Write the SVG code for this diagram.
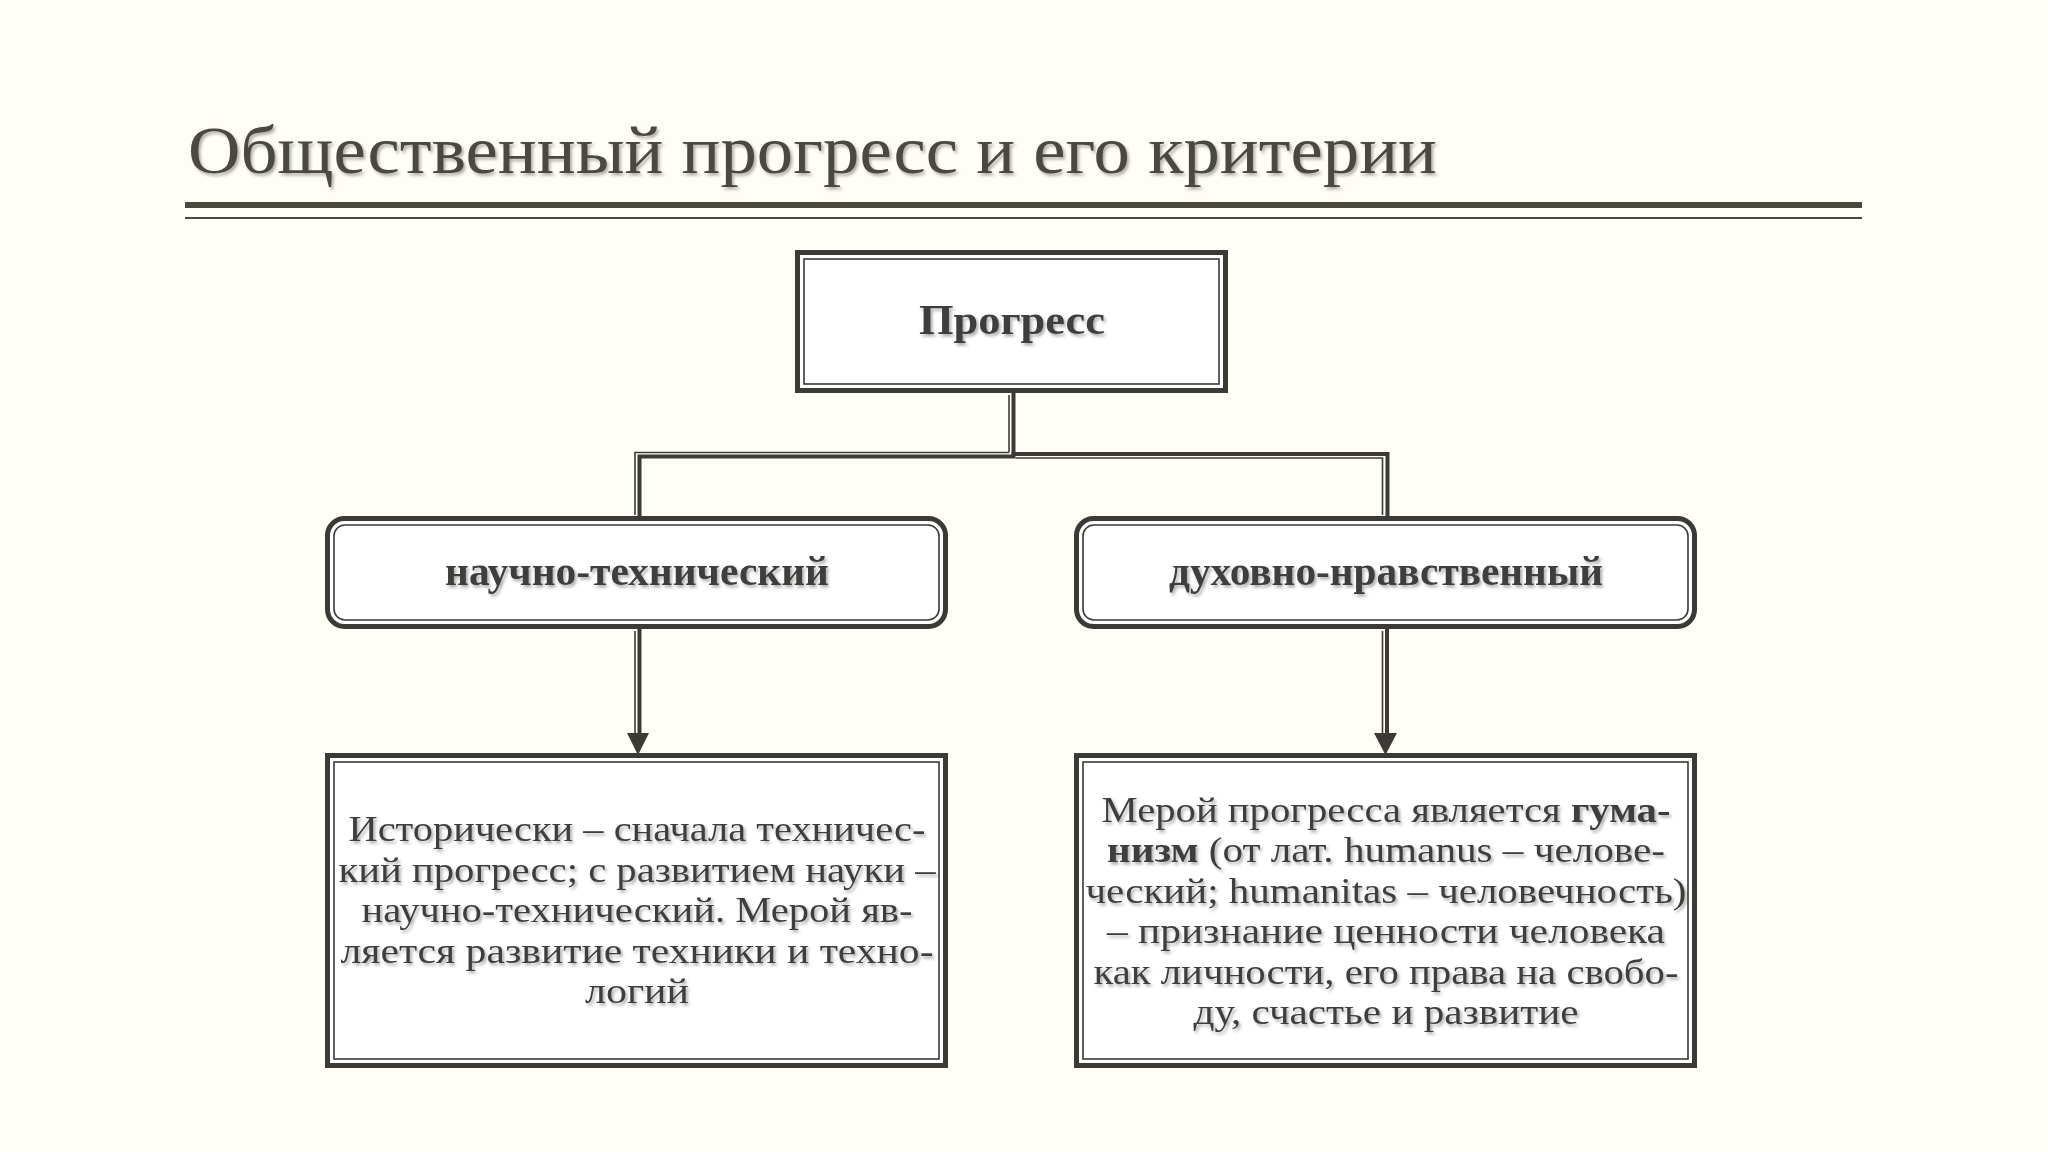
<svg xmlns="http://www.w3.org/2000/svg" width="2048" height="1152" viewBox="0 0 2048 1152">
<defs>
<filter id="sh" x="-5%" y="-20%" width="110%" height="150%">
<feDropShadow dx="2" dy="2.5" stdDeviation="1.6" flood-color="#000" flood-opacity="0.32"/>
</filter>
<style>
.bg{fill:#FFFEF6}
.thick{fill:#fff;stroke:#3b3a36;stroke-width:5}
.thin{fill:none;stroke:#3b3a36;stroke-width:1.6}
.cth{fill:none;stroke:#3b3a36;stroke-width:4;stroke-linecap:square}
.ctn{fill:none;stroke:#3b3a36;stroke-width:1.6}
.head{fill:#3b3a36}
.title{font-family:"Liberation Serif","Times New Roman",serif;font-size:68px;fill:#4a4940}
.lbl{font-family:"Liberation Serif","Times New Roman",serif;font-weight:bold;font-size:42px;fill:#3f3e3c;text-anchor:middle}
.body{font-family:"Liberation Serif","Times New Roman",serif;font-size:36px;fill:#3f3e3c;text-anchor:middle}
.b{font-weight:bold}
</style>
</defs>
<rect class="bg" x="0" y="0" width="2048" height="1152"/>

<g id="title">
<text class="title" x="188" y="173" textLength="1249" lengthAdjust="spacingAndGlyphs" filter="url(#sh)">Общественный прогресс и его критерии</text>
<rect x="185" y="202" width="1677" height="6" fill="#4a4940"/>
<rect x="185" y="217" width="1677" height="2" fill="#4a4940"/>
</g>

<g id="connectors">
<line class="cth" x1="1013.5" y1="395" x2="1013.5" y2="454"/>
<line class="ctn" x1="1009" y1="395" x2="1009" y2="452.5"/>
<path class="cth" d="M1013.5 456.5 H639.5 V515"/>
<path class="ctn" d="M1009 452.5 H635 V515"/>
<path class="cth" d="M1013.5 454 H1387.5 V515"/>
<path class="ctn" d="M1015.5 458 H1382.5 V515"/>
<line class="cth" x1="639.5" y1="631" x2="639.5" y2="735"/>
<line class="ctn" x1="635" y1="631" x2="635" y2="735"/>
<path class="head" d="M627 733 L649 733 L638 755 Z"/>
<line class="cth" x1="1387" y1="631" x2="1387" y2="735"/>
<line class="ctn" x1="1382.5" y1="631" x2="1382.5" y2="735"/>
<path class="head" d="M1374 733 L1397 733 L1385.5 755 Z"/>
</g>

<g id="node-progress">
<rect class="thick" x="797.5" y="252.5" width="428" height="138"/>
<rect class="thin" x="804" y="259" width="415" height="125"/>
<text class="lbl" x="1012" y="334" textLength="186" lengthAdjust="spacingAndGlyphs" filter="url(#sh)">Прогресс</text>
</g>

<g id="node-sci">
<rect class="thick" x="327.5" y="518.5" width="618" height="108" rx="17"/>
<rect class="thin" x="334" y="525" width="605" height="95" rx="11"/>
<text class="lbl" x="637" y="585" textLength="384" lengthAdjust="spacingAndGlyphs" filter="url(#sh)">научно-технический</text>
</g>

<g id="node-spirit">
<rect class="thick" x="1076.5" y="518.5" width="618" height="108" rx="17"/>
<rect class="thin" x="1083" y="525" width="605" height="95" rx="11"/>
<text class="lbl" x="1386" y="585" textLength="434" lengthAdjust="spacingAndGlyphs" filter="url(#sh)">духовно-нравственный</text>
</g>

<g id="node-sci-desc">
<rect class="thick" x="327.5" y="755.5" width="618" height="310"/>
<rect class="thin" x="334" y="762" width="605" height="297"/>
<g filter="url(#sh)">
<text class="body" x="637" y="841" textLength="577" lengthAdjust="spacingAndGlyphs">Исторически – сначала техничес-</text>
<text class="body" x="637" y="882" textLength="597" lengthAdjust="spacingAndGlyphs">кий прогресс; с развитием науки –</text>
<text class="body" x="637" y="922" textLength="551" lengthAdjust="spacingAndGlyphs">научно-технический. Мерой яв-</text>
<text class="body" x="637" y="963" textLength="593" lengthAdjust="spacingAndGlyphs">ляется развитие техники и техно-</text>
<text class="body" x="637" y="1003" textLength="104" lengthAdjust="spacingAndGlyphs">логий</text>
</g>
</g>

<g id="node-spirit-desc">
<rect class="thick" x="1076.5" y="755.5" width="618" height="310"/>
<rect class="thin" x="1083" y="762" width="605" height="297"/>
<g filter="url(#sh)">
<text class="body" x="1386" y="822" textLength="569" lengthAdjust="spacingAndGlyphs">Мерой прогресса является <tspan class="b">гума-</tspan></text>
<text class="body" x="1386" y="862" textLength="558" lengthAdjust="spacingAndGlyphs"><tspan class="b">низм</tspan> (от лат. humanus – челове-</text>
<text class="body" x="1386" y="903" textLength="601" lengthAdjust="spacingAndGlyphs">ческий; humanitas – человечность)</text>
<text class="body" x="1386" y="943" textLength="558" lengthAdjust="spacingAndGlyphs">– признание ценности человека</text>
<text class="body" x="1386" y="984" textLength="585" lengthAdjust="spacingAndGlyphs">как личности, его права на свобо-</text>
<text class="body" x="1386" y="1024" textLength="385" lengthAdjust="spacingAndGlyphs">ду, счастье и развитие</text>
</g>
</g>
</svg>
